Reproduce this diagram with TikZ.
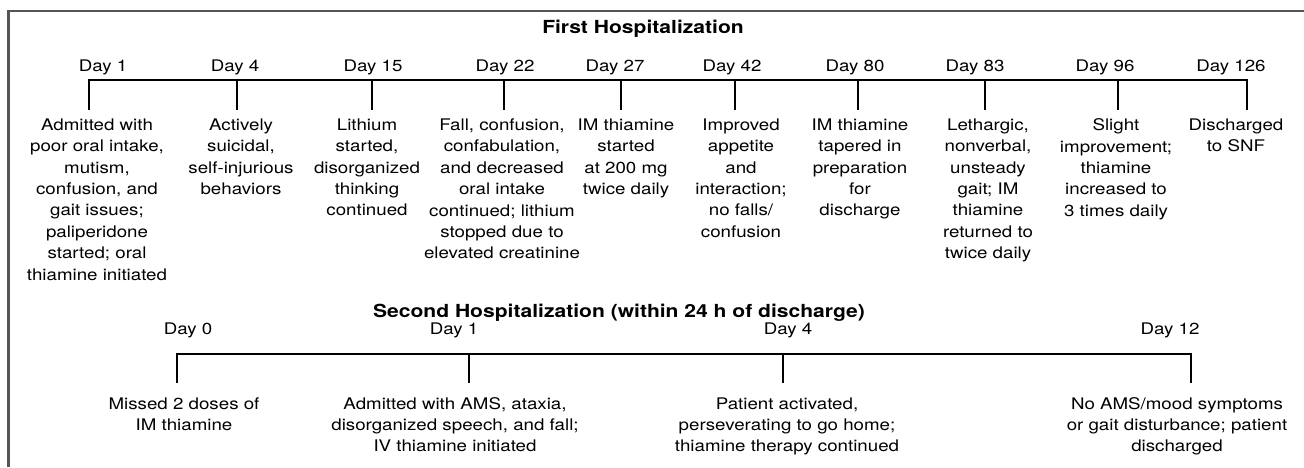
\documentclass[tikz,border=0pt]{standalone}
\usepackage{fontspec}
\setmainfont[FakeStretch=1.17]{TeX Gyre Heros}
\usepackage{tikz}
\definecolor{framegray}{HTML}{555555}

\begin{document}
\begin{tikzpicture}[x=1pt, y=-1pt, every node/.style={font=\fontsize{16}{21.4}\selectfont, inner sep=0pt}, day/.style={anchor=base}, event/.style={anchor=north, align=center}, hosp/.style={anchor=base, font=\fontsize{18}{22}\selectfont\bfseries}, dayline/.style={line width=2.4pt, line join=miter}]
	\useasboundingbox (0,0) rectangle (1304,467);
	\draw[framegray, line width=2.2pt] (8.5,467) -- (8.5,11) -- (1304,11);
	% first stay
	\node[hosp] (h1) at (643,33) {First Hospitalization};
	\foreach \i/\n/\t/\l/\e/\txt in {1/1/89/103/97/{Admitted with\\poor oral intake,\\mutism,\\confusion, and\\gait issues;\\paliperidone\\started; oral\\thiamine initiated}, 2/4/237/235/241/{Actively\\suicidal,\\self-injurious\\behaviors}, 3/15/372/373/367/{Lithium\\started,\\disorganized\\thinking\\continued}, 4/22/504/505/502/{Fall, confusion,\\confabulation,\\and decreased\\oral intake\\continued; lithium\\stopped due to\\elevated creatinine}, 5/27/621/615/626/{IM thiamine\\started\\at 200 mg\\twice daily}, 6/42/735/732/741/{Improved\\appetite\\and\\interaction;\\no falls/\\confusion}, 7/80/858/855/860/{IM thiamine\\tapered in\\preparation\\for\\discharge}, 8/83/985/975/988/{Lethargic,\\nonverbal,\\unsteady\\gait; IM\\thiamine\\returned to\\twice daily}, 9/96/1118/1105/1116/{Slight\\improvement;\\thiamine\\increased to\\3 times daily}, 10/126/1247/1231/1236/{Discharged\\to SNF}} {
		\coordinate (a\i) at (\t,80);
		\coordinate (b\i) at (\t,110);
		\node[day] (d\i) at (\l,71) {Day \n};
		\node[event] (e\i) at (\e,118.5) {\txt};
	}
	\draw[dayline] (b1) -- (a1) -- (a10) -- (b10);
	\foreach \i in {2,...,9} {\draw[dayline] (a\i) -- (b\i);}
	% second stay
	\node[hosp] (h2) at (619,317) {Second Hospitalization (within 24 h of discharge)};
	\foreach \i/\n/\t/\l/\e/\txt in {1/0/177/188/184/{Missed 2 doses of\\IM thiamine}, 2/1/469/454/455/{Admitted with AMS, ataxia,\\disorganized speech, and fall;\\IV thiamine initiated}, 3/4/783/788/787/{Patient activated,\\perseverating to go home;\\thiamine therapy continued}, 4/12/1191/1170/1177/{No AMS/mood symptoms\\or gait disturbance; patient\\discharged}} {
		\coordinate (p\i) at (\t,354);
		\coordinate (q\i) at (\t,383);
		\node[day] (s\i) at (\l,334.5) {Day \n};
		\node[event, font=\fontsize{16}{21}\selectfont] (r\i) at (\e,397.5) {\txt};
	}
	\draw[dayline] (q1) -- (p1) -- (p4) -- (q4);
	\foreach \i in {2,3} {\draw[dayline] (p\i) -- (q\i);}
\end{tikzpicture}
\end{document}
